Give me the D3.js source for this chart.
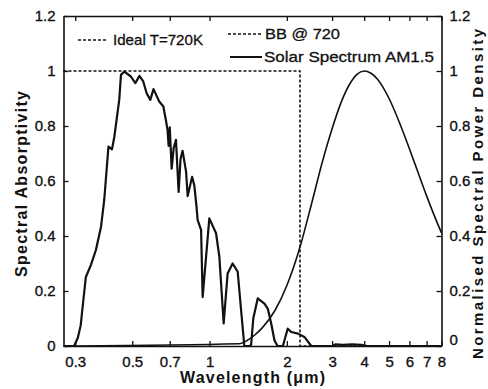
<!DOCTYPE html>
<html>
<head>
<meta charset="utf-8">
<script src="https://cdn.jsdelivr.net/npm/d3@7"></script>
<style>
  html, body { margin: 0; padding: 0; background: #fff; }
  svg { display: block; font-family: "Liberation Sans", Arial, sans-serif; }
</style>
</head>
<body>
<svg id="chart" width="488" height="389"></svg>
<script>
// ---- data ----
const xTicks = [0.3, 0.5, 0.7, 1, 2, 3, 4, 5, 6, 7, 8];
const yTicks = [0, 0.2, 0.4, 0.6, 0.8, 1, 1.2];

const idealWl  = [0.27, 2.25, 2.25, 8];
const idealVal = [1, 1, 0, 0];

const bbWl  = [0.3, 1.3, 1.4, 1.5, 1.6, 1.8, 2.0, 2.25, 2.5, 2.75, 3, 3.25, 3.5, 3.75, 4, 4.25, 4.5, 5, 5.5, 6, 6.5, 7, 7.5, 8];
const bbVal = [0, 0.008, 0.02, 0.04, 0.065, 0.13, 0.22, 0.36, 0.52, 0.67, 0.79, 0.885, 0.95, 0.988, 1.0, 0.992, 0.971, 0.90, 0.81, 0.717, 0.628, 0.546, 0.474, 0.411];

const solarWl  = [0.27, 0.297, 0.307, 0.315, 0.322, 0.330, 0.345, 0.361, 0.378, 0.389, 0.404, 0.417, 0.426, 0.445, 0.452, 0.466, 0.494, 0.514, 0.533, 0.552, 0.569, 0.588, 0.605, 0.637, 0.661, 0.676, 0.686, 0.693, 0.700, 0.712, 0.725, 0.740, 0.758, 0.771, 0.785, 0.810, 0.822, 0.855, 0.872, 0.890, 0.899, 0.927, 0.940, 0.998, 1.06, 1.092, 1.135, 1.176, 1.23, 1.287, 1.327, 1.366, 1.43, 1.452, 1.48, 1.54, 1.636, 1.685, 1.738, 1.79, 1.84, 1.93, 1.97, 2.016, 2.08, 2.21, 2.34, 2.49, 3.0, 3.1, 3.3, 3.6, 3.9, 4.1, 8];
const solarVal = [0, 0, 0.03, 0.075, 0.16, 0.251, 0.294, 0.349, 0.434, 0.531, 0.725, 0.715, 0.761, 0.895, 0.986, 0.998, 0.98, 0.956, 0.982, 0.962, 0.919, 0.895, 0.934, 0.889, 0.871, 0.822, 0.786, 0.728, 0.795, 0.645, 0.72, 0.75, 0.56, 0.68, 0.71, 0.635, 0.545, 0.615, 0.585, 0.505, 0.458, 0.422, 0.178, 0.464, 0.41, 0.324, 0.082, 0.264, 0.30, 0.27, 0.13, 0, 0, 0.005, 0.1, 0.173, 0.154, 0.136, 0.082, 0.02, 0, 0, 0.03, 0.063, 0.051, 0.045, 0.033, 0, 0, 0.006, 0.004, 0.006, 0.004, 0, 0];

const legendLabels = ["Ideal T=720K", "BB @ 720", "Solar Spectrum AM1.5"];
const titles = { x: "Wavelength (\u03bcm)", yLeft: "Spectral Absorptivity", yRight: "Normalised Spectral Power Density" };

// ---- layout ----
const svg = d3.select("#chart");
const L = 63.5, R = 441.5, T = 16, B = 346;

const x = d3.scaleLog().domain([0.27, 8]).range([L, R]);
const y = d3.scaleLinear().domain([0, 1.2]).range([B, T]);

const fmt = d => (d === 0 ? "0" : d3.format("~g")(d));

// axes (inward ticks)
const axB = svg.append("g").attr("transform", `translate(0,${B})`)
  .call(d3.axisBottom(x).tickValues(xTicks).tickFormat(fmt).tickSizeInner(-5).tickSizeOuter(0).tickPadding(10));
const axT = svg.append("g").attr("transform", `translate(0,${T})`)
  .call(d3.axisTop(x).tickValues(xTicks).tickFormat("").tickSizeInner(-5).tickSizeOuter(0));
const axL = svg.append("g").attr("transform", `translate(${L},0)`)
  .call(d3.axisLeft(y).tickValues(yTicks).tickFormat(fmt).tickSizeInner(-5).tickSizeOuter(0).tickPadding(8));
const axR = svg.append("g").attr("transform", `translate(${R},0)`)
  .call(d3.axisRight(y).tickValues(yTicks).tickFormat(fmt).tickSizeInner(-5).tickSizeOuter(0).tickPadding(8));

[axB, axT, axL, axR].forEach(g => {
  g.select(".domain").attr("stroke", "#111").attr("stroke-width", 1.6);
  g.selectAll(".tick line").attr("stroke", "#111").attr("stroke-width", 1.3);
  g.selectAll(".tick text").attr("font-size", 15).attr("fill", "#111")
    .attr("stroke", "#111").attr("stroke-width", 0.35)
    .attr("font-family", "'Liberation Sans', Arial, sans-serif");
});
axR.select(".tick:first-of-type text").attr("dy", "-0.1em");

// lines
const mk = (wl, val) => wl.map((w, i) => [w, val[i]]);
const lineLin = d3.line().x(d => x(d[0])).y(d => y(d[1]));
const lineSmooth = d3.line().x(d => x(d[0])).y(d => y(d[1])).curve(d3.curveMonotoneX);

svg.append("path").datum(mk(bbWl, bbVal)).attr("d", lineSmooth)
  .attr("fill", "none").attr("stroke", "#111").attr("stroke-width", 1.6);

svg.append("path").datum(mk(solarWl, solarVal)).attr("d", lineLin)
  .attr("fill", "none").attr("stroke", "#111").attr("stroke-width", 2.2).attr("stroke-linejoin", "round");

svg.append("path").datum(mk(idealWl, idealVal)).attr("d", lineLin)
  .attr("fill", "none").attr("stroke", "#111").attr("stroke-width", 1.6).attr("stroke-dasharray", "3,2");

// legend
const lg = svg.append("g").attr("font-size", 15).attr("fill", "#111").attr("stroke", "#111").attr("stroke-width", 0.3);
const legendItems = [
  { x1: 78, x2: 107, ly: 40, tx: 113, tl: 90, dash: "3,2", w: 1.6 },
  { x1: 228, x2: 262, ly: 34, tx: 265, tl: 75, dash: "3,2", w: 1.6 },
  { x1: 230, x2: 262, ly: 57, tx: 264, tl: 170, dash: null, w: 2 }
];
legendItems.forEach((it, i) => {
  lg.append("line").attr("x1", it.x1).attr("x2", it.x2).attr("y1", it.ly).attr("y2", it.ly)
    .attr("stroke", "#111").attr("stroke-width", it.w).attr("stroke-dasharray", it.dash);
  lg.append("text").attr("x", it.tx).attr("y", it.ly).attr("dy", "0.35em")
    .attr("textLength", it.tl).attr("lengthAdjust", "spacingAndGlyphs").text(legendLabels[i]);
});

// axis titles
svg.append("text").attr("x", 252.5).attr("y", 383).attr("text-anchor", "middle")
  .attr("font-size", 16).attr("font-weight", "bold").attr("fill", "#111")
  .attr("textLength", 145).attr("lengthAdjust", "spacing").text(titles.x);

svg.append("text").attr("transform", "translate(27,184) rotate(-90)").attr("text-anchor", "middle")
  .attr("font-size", 16).attr("font-weight", "bold").attr("fill", "#111")
  .attr("textLength", 186).attr("lengthAdjust", "spacing").text(titles.yLeft);

svg.append("text").attr("transform", "translate(483,194) rotate(-90)").attr("text-anchor", "middle")
  .attr("font-size", 15).attr("font-weight", "bold").attr("fill", "#111")
  .attr("textLength", 330).attr("lengthAdjust", "spacing").text(titles.yRight);
</script>
</body>
</html>
